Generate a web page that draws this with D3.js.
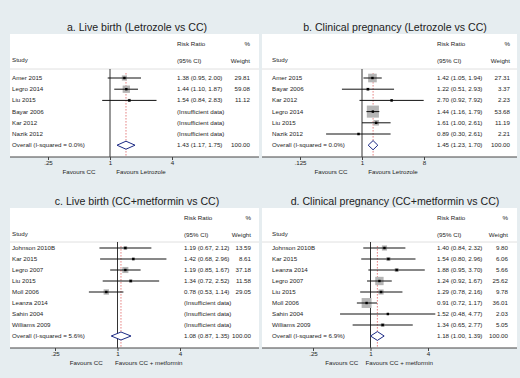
<!DOCTYPE html>
<html>
<head>
<meta charset="utf-8">
<script src="https://cdn.jsdelivr.net/npm/d3@7"></script>
<style>
body { margin:0; background:#e6edf0; }
svg { display:block; font-family:"Liberation Sans", Arial, sans-serif; }
</style>
</head>
<body>
<script>
// ---- data ----
var titles = ["a. Live birth (Letrozole vs CC)", "b. Clinical pregnancy (Letrozole vs CC)",
              "c. Live birth (CC+metformin vs CC)", "d. Clinical pregnancy (CC+metformin vs CC)"];
var favoursRight = ["Favours Letrozole", "Favours Letrozole", "Favours CC + metformin", "Favours CC + metformin"];

var studiesA = ["Amer 2015", "Legro 2014", "Liu 2015", "Bayar 2006", "Kar 2012", "Nazik 2012"];
var rrA = [1.38, 1.44, 1.54, null, null, null];
var loA = [0.95, 1.10, 0.84, null, null, null];
var hiA = [2.00, 1.87, 2.83, null, null, null];
var wtA = [29.81, 59.08, 11.12, null, null, null];

var studiesB = ["Amer 2015", "Bayar 2006", "Kar 2012", "Legro 2014", "Liu 2015", "Nazik 2012"];
var rrB = [1.42, 1.22, 2.70, 1.44, 1.61, 0.89];
var loB = [1.05, 0.51, 0.92, 1.16, 1.00, 0.30];
var hiB = [1.94, 2.93, 7.92, 1.79, 2.61, 2.61];
var wtB = [27.31, 3.37, 2.23, 53.68, 11.19, 2.21];

var studiesC = ["Johnson 2010B", "Kar 2015", "Legro 2007", "Liu 2015", "Moll 2006", "Leanza 2014", "Sahin 2004", "Williams 2009"];
var rrC = [1.19, 1.42, 1.19, 1.34, 0.78, null, null, null];
var loC = [0.67, 0.68, 0.85, 0.72, 0.53, null, null, null];
var hiC = [2.12, 2.96, 1.67, 2.52, 1.14, null, null, null];
var wtC = [13.59, 8.61, 37.18, 11.58, 29.05, null, null, null];

var studiesD = ["Johnson 2010B", "Kar 2015", "Leanza 2014", "Legro 2007", "Liu 2015", "Moll 2006", "Sahin 2004", "Williams 2009"];
var rrD = [1.40, 1.54, 1.88, 1.24, 1.29, 0.91, 1.52, 1.34];
var loD = [0.84, 0.80, 0.95, 0.92, 0.78, 0.72, 0.48, 0.65];
var hiD = [2.32, 2.96, 3.70, 1.67, 2.16, 1.17, 4.77, 2.77];
var wtD = [9.80, 6.06, 5.66, 25.62, 9.78, 36.01, 2.03, 5.05];

var overallRR = [1.43, 1.45, 1.08, 1.18];
var overallLo = [1.17, 1.23, 0.87, 1.00];
var overallHi = [1.75, 1.70, 1.35, 1.39];
var iSquared = ["0.0%", "0.0%", "5.6%", "6.9%"];

var tickValsA = [0.25, 1, 4], tickLabelsA = [".25", "1", "4"];
var tickValsB = [0.125, 1, 8], tickLabelsB = [".125", "1", "8"];

// ---- layout (pixels) ----
var W = 520, H = 378;
var layouts = [
  {x0:10, x1:259, top:34, sep:69, h1:46, h2:63, row0:80, step:11.2, axis:157, titleX:137, titleY:31,
   xr:[48,172], study:12, val:177, wt:250, boxK:0.95, dh:4},
  {x0:262, x1:517, top:34, sep:69, h1:46, h2:63, row0:80, step:11.2, axis:157, titleX:395, titleY:31,
   xr:[300,424], study:272, val:437, wt:510, boxK:1.65, dh:4.6},
  {x0:10, x1:259, top:208, sep:242, h1:220, h2:237, row0:250, step:11, axis:348, titleX:137, titleY:205,
   xr:[55,180], study:12, val:184, wt:251, boxK:1.0, dh:4},
  {x0:262, x1:517, top:208, sep:242, h1:220, h2:237, row0:250, step:11, axis:348, titleX:395, titleY:205,
   xr:[313,428], study:272, val:437, wt:508, boxK:1.65, dh:4.4}
];

var panels = [
  {studies:studiesA, rr:rrA, lo:loA, hi:hiA, wt:wtA, ticks:tickValsA, tickLabels:tickLabelsA},
  {studies:studiesB, rr:rrB, lo:loB, hi:hiB, wt:wtB, ticks:tickValsB, tickLabels:tickLabelsB},
  {studies:studiesC, rr:rrC, lo:loC, hi:hiC, wt:wtC, ticks:tickValsA, tickLabels:tickLabelsA},
  {studies:studiesD, rr:rrD, lo:loD, hi:hiD, wt:wtD, ticks:tickValsA, tickLabels:tickLabelsA}
];

var svg = d3.select("body").append("svg").attr("width", W).attr("height", H);
svg.append("rect").attr("width", W).attr("height", H).attr("fill", "#e6edf0");

var fmt = d3.format(".2f");
var txtCol = "#1e1e1e";

panels.forEach(function(p, k){
  var L = layouts[k];
  var g = svg.append("g");
  var x = d3.scaleLog().base(2).domain([p.ticks[0], p.ticks[p.ticks.length-1]]).range(L.xr);

  var rows = p.studies.map(function(s, i){
    return {study:s, rr:p.rr[i], lo:p.lo[i], hi:p.hi[i], wt:p.wt[i], y:L.row0 + i*L.step};
  });
  var yOverall = L.row0 + rows.length*L.step;

  // white plot region
  g.append("rect").attr("x", L.x0).attr("y", L.top).attr("width", L.x1-L.x0).attr("height", L.axis-L.top)
    .attr("fill", "#fff");

  g.append("text").attr("x", L.titleX).attr("y", L.titleY).attr("text-anchor", "middle")
    .style("font-size", "10.6px").attr("fill", "#222").text(titles[k]);

  // header
  g.append("line").attr("x1", L.x0).attr("x2", L.x1).attr("y1", L.sep).attr("y2", L.sep)
    .attr("stroke", "#d8d8d8").attr("stroke-width", 0.8);
  var hdr = [[L.val, L.h1, "Risk Ratio", "start"], [L.val, L.h2, "(95% CI)", "start"],
             [L.wt, L.h1, "%", "end"], [L.wt, L.h2, "Weight", "end"], [L.study, L.h2 - 1, "Study", "start"]];
  g.selectAll(".hdr").data(hdr).enter().append("text")
    .attr("x", function(d){ return d[0]; }).attr("y", function(d){ return d[1]; })
    .attr("text-anchor", function(d){ return d[3]; })
    .style("font-size", "6.2px").attr("fill", txtCol).text(function(d){ return d[2]; });

  // null line and overall dashed line
  g.append("line").attr("x1", x(1)).attr("x2", x(1)).attr("y1", L.sep).attr("y2", L.axis)
    .attr("stroke", "#333").attr("stroke-width", 1);
  g.append("line").attr("x1", x(overallRR[k])).attr("x2", x(overallRR[k])).attr("y1", L.sep + 4).attr("y2", L.axis)
    .attr("stroke", "#e06666").attr("stroke-width", 0.8).attr("stroke-dasharray", "1.6,1.4");

  var est = rows.filter(function(d){ return d.rr != null; });

  // weight boxes
  g.selectAll(".box").data(est).enter().append("rect")
    .attr("x", function(d){ return x(d.rr) - L.boxK*Math.sqrt(d.wt)/2; })
    .attr("y", function(d){ return d.y - 2 - L.boxK*Math.sqrt(d.wt)/2; })
    .attr("width", function(d){ return L.boxK*Math.sqrt(d.wt); })
    .attr("height", function(d){ return L.boxK*Math.sqrt(d.wt); })
    .attr("fill", "#b5b5b5");
  // CI lines
  g.selectAll(".ci").data(est).enter().append("line")
    .attr("x1", function(d){ return x(d.lo); }).attr("x2", function(d){ return x(d.hi); })
    .attr("y1", function(d){ return d.y - 2; }).attr("y2", function(d){ return d.y - 2; })
    .attr("stroke", "#111").attr("stroke-width", 1);
  g.selectAll(".pt").data(est).enter().append("rect")
    .attr("x", function(d){ return x(d.rr) - 1.2; }).attr("y", function(d){ return d.y - 3.2; })
    .attr("width", 2.4).attr("height", 2.4).attr("fill", "#000");

  // overall diamond
  var yd = yOverall - 2;
  var dpts = [[x(overallLo[k]), yd], [x(overallRR[k]), yd - L.dh], [x(overallHi[k]), yd], [x(overallRR[k]), yd + L.dh]];
  g.append("polygon").attr("points", dpts.map(function(q){ return q.join(","); }).join(" "))
    .attr("fill", "#fff").attr("stroke", "#1c2a85").attr("stroke-width", 1);

  // row texts
  g.selectAll(".st").data(rows).enter().append("text")
    .attr("x", L.study).attr("y", function(d){ return d.y; })
    .style("font-size", "6.2px").attr("fill", txtCol).text(function(d){ return d.study; });
  g.selectAll(".vl").data(rows).enter().append("text")
    .attr("x", L.val).attr("y", function(d){ return d.y; })
    .style("font-size", "6.2px").attr("fill", txtCol)
    .text(function(d){ return d.rr == null ? "(Insufficient data)" : fmt(d.rr) + " (" + fmt(d.lo) + ", " + fmt(d.hi) + ")"; });
  g.selectAll(".wt").data(est).enter().append("text")
    .attr("x", L.wt).attr("y", function(d){ return d.y; }).attr("text-anchor", "end")
    .style("font-size", "6.2px").attr("fill", txtCol).text(function(d){ return fmt(d.wt); });

  g.append("text").attr("x", L.study).attr("y", yOverall).style("font-size", "6.2px").attr("fill", txtCol)
    .text("Overall (I-squared = " + iSquared[k] + ")");
  g.append("text").attr("x", L.val).attr("y", yOverall).style("font-size", "6.2px").attr("fill", txtCol)
    .text(fmt(overallRR[k]) + " (" + fmt(overallLo[k]) + ", " + fmt(overallHi[k]) + ")");
  g.append("text").attr("x", L.wt).attr("y", yOverall).attr("text-anchor", "end").style("font-size", "6.2px")
    .attr("fill", txtCol).text("100.00");

  // axis
  g.append("line").attr("x1", L.x0).attr("x2", L.x1).attr("y1", L.axis).attr("y2", L.axis)
    .attr("stroke", "#444").attr("stroke-width", 1);
  var ax = d3.axisBottom(x).tickValues(p.ticks).tickSize(3).tickPadding(1)
    .tickFormat(function(d, i){ return p.tickLabels[i]; });
  var axg = g.append("g").attr("transform", "translate(0," + L.axis + ")").call(ax);
  axg.select(".domain").remove();
  axg.selectAll("line").attr("stroke", "#444");
  axg.selectAll("text").style("font-size", "6.2px").attr("fill", txtCol).style("font-family", "Liberation Sans, Arial, sans-serif");

  g.append("text").attr("x", x(Math.sqrt(p.ticks[0]))).attr("y", L.axis + 17).attr("text-anchor", "middle")
    .style("font-size", "6.2px").attr("fill", txtCol).text("Favours CC");
  g.append("text").attr("x", x(Math.sqrt(p.ticks[p.ticks.length-1]))).attr("y", L.axis + 17).attr("text-anchor", "middle")
    .style("font-size", "6.2px").attr("fill", txtCol).text(favoursRight[k]);
});
</script>
</body>
</html>
